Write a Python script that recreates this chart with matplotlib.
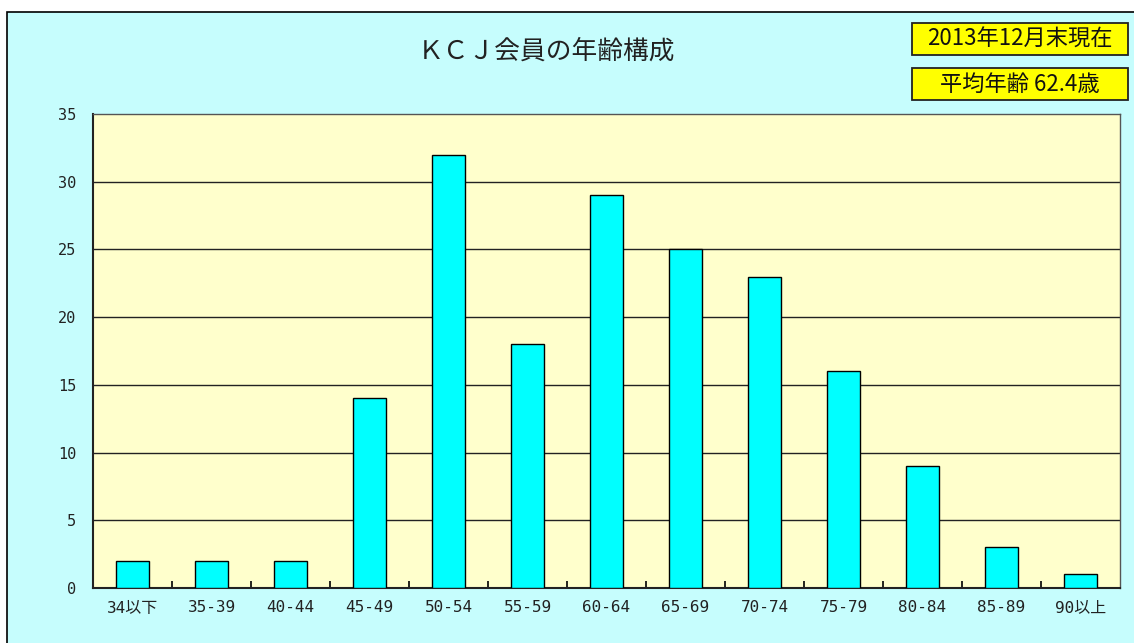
import matplotlib.pyplot as plt
from matplotlib.patches import Rectangle

plt.rcParams['font.family'] = ['Noto Sans CJK JP', 'DejaVu Sans']

categories = ['34以下', '35-39', '40-44', '45-49', '50-54', '55-59', '60-64',
              '65-69', '70-74', '75-79', '80-84', '85-89', '90以上']
members = [2, 2, 2, 14, 32, 18, 29, 25, 23, 16, 9, 3, 1]
yticks = [0, 5, 10, 15, 20, 25, 30, 35]

W, H = 1134, 643
fig = plt.figure(figsize=(W / 100, H / 100), dpi=100)
fig.patch.set_facecolor('white')

# outer chart frame
fig.patches.append(Rectangle((7 / W, -0.05), 1.2, 1 - 12 / H + 0.05,
                             transform=fig.transFigure, facecolor='#c6fdfd',
                             edgecolor='black', linewidth=1.2, zorder=-1))

ax = fig.add_axes([93 / W, 1 - 588 / H, (1120 - 93) / W, (588 - 114) / H])
ax.set_facecolor('#ffffcc')
x = range(len(categories))
ax.bar(x, members, width=0.42, color='#00ffff', edgecolor='black',
       linewidth=1, zorder=3)

ax.set_xlim(-0.5, len(categories) - 0.5)
ax.set_ylim(0, 35)
ax.set_yticks(yticks)
ax.set_yticklabels([str(v) for v in yticks], fontsize=11,
                   family=['DejaVu Sans Mono'], color='#222222')
for v in yticks[1:-1]:
    ax.axhline(v, color='#222222', linewidth=1, zorder=1)

ax.set_xticks([i + 0.5 for i in range(len(categories) - 1)])
ax.set_xticklabels([])
ax.set_xticks(list(x), minor=True)
ax.set_xticklabels(categories, minor=True, fontsize=11.5,
                   family=['DejaVu Sans Mono', 'Noto Sans CJK JP'], color='#222222')
ax.tick_params(axis='x', which='major', direction='in', length=5, width=1.2)
ax.tick_params(axis='x', which='minor', length=0, pad=9)
ax.tick_params(axis='y', direction='in', length=0, pad=12)

for s in ['left', 'bottom']:
    ax.spines[s].set_linewidth(1.5)
    ax.spines[s].set_color('#222222')
for s in ['top', 'right']:
    ax.spines[s].set_linewidth(1)
    ax.spines[s].set_color('#555555')

fig.text(547 / W, 1 - 52 / H, 'ＫＣＪ会員の年齢構成', ha='center', va='center',
         fontsize=18.5, color='#222222')

# info boxes at top right
for (y0, y1), label in [((23, 55), '2013年12月末現在'), ((68, 100), '平均年齢 62.4歳')]:
    fig.patches.append(Rectangle((912 / W, 1 - y1 / H), (1128 - 912) / W, (y1 - y0) / H,
                                 transform=fig.transFigure, facecolor='#ffff00',
                                 edgecolor='#222222', linewidth=1.3))
    fig.text(1020 / W, 1 - (y0 + y1) / 2 / H, label, ha='center', va='center',
             fontsize=16, color='#111111')

fig.savefig('out.png', dpi=100, facecolor=fig.get_facecolor())
